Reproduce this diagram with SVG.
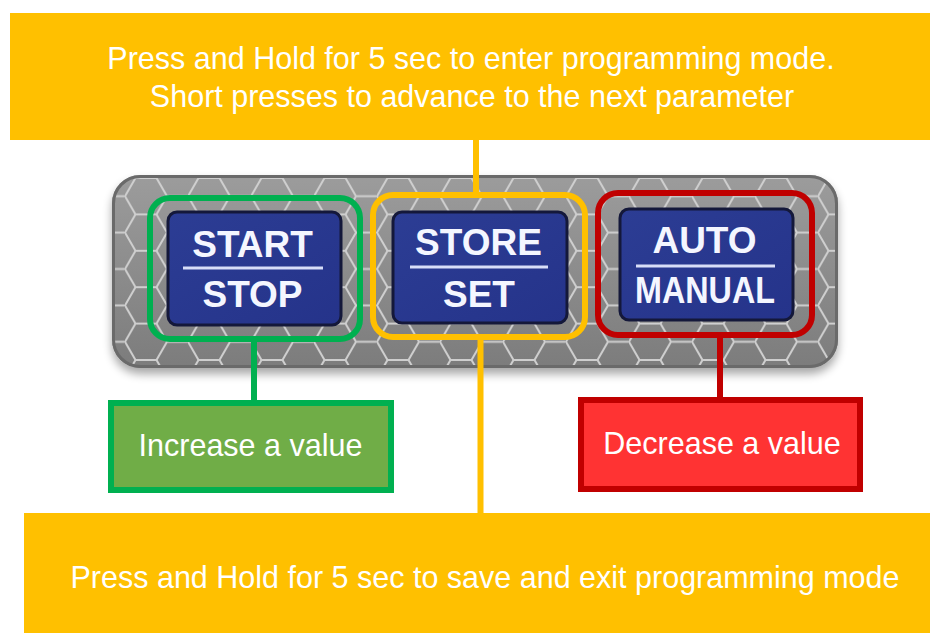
<svg xmlns="http://www.w3.org/2000/svg" width="930" height="633" viewBox="0 0 930 633">
<defs>
<style>
.lbl{font-family:"Liberation Sans",Arial,sans-serif;font-size:30.5px;fill:#ffffff;text-anchor:middle}
.key{font-family:"Liberation Sans",Arial,sans-serif;font-weight:bold;font-size:37px;fill:#f4f6ff;text-anchor:middle}
.keyface{fill:url(#keyGrad);stroke:#14183a;stroke-width:3}
.keybar{stroke:#d8def8;stroke-width:3}
.ring{fill:none;stroke-width:6}
.conn{stroke-width:6;fill:none}
</style>
<pattern id="hex" width="63" height="36.4" patternUnits="userSpaceOnUse" x="125" y="178">
<path d="M0,18.2 L10.5,0 L31.5,0 L42,18.2 L31.5,36.4 L10.5,36.4 Z M42,18.2 H63" fill="none" stroke="#cfcfcf" stroke-width="2"/>
</pattern>
<linearGradient id="panelGrad" x1="0" y1="0" x2="0" y2="1">
<stop offset="0" stop-color="#9c9c9c"/>
<stop offset="0.5" stop-color="#8c8c8c"/>
<stop offset="1" stop-color="#7c7c7c"/>
</linearGradient>
<linearGradient id="keyGrad" x1="0" y1="0" x2="1" y2="1">
<stop offset="0" stop-color="#2c3d94"/>
<stop offset="1" stop-color="#25338a"/>
</linearGradient>
<filter id="shadow" x="-10%" y="-10%" width="120%" height="140%">
<feGaussianBlur in="SourceAlpha" stdDeviation="5"/>
<feOffset dy="6"/>
<feComponentTransfer><feFuncA type="linear" slope="0.35"/></feComponentTransfer>
<feMerge><feMergeNode/><feMergeNode in="SourceGraphic"/></feMerge>
</filter>
</defs>
<rect width="930" height="633" fill="#ffffff"/>

<g id="panel">
<rect x="112" y="175" width="726" height="193" rx="28" fill="url(#panelGrad)" filter="url(#shadow)"/>
<rect x="112" y="175" width="726" height="193" rx="28" fill="url(#hex)"/>
<rect x="113.5" y="176.5" width="723" height="190" rx="27" fill="none" stroke="#6a6a6a" stroke-width="3"/>
</g>

<g id="label-top">
<rect x="10" y="13" width="920" height="127" fill="#FFC000"/>
<text class="lbl" x="471" y="69">Press and Hold for 5 sec to enter programming mode.</text>
<text class="lbl" x="472" y="107">Short presses to advance to the next parameter</text>
</g>

<g id="connectors">
<line class="conn" x1="476" y1="140" x2="476" y2="198" stroke="#FFC000"/>
<line class="conn" x1="480.5" y1="339" x2="480.5" y2="514" stroke="#FFC000"/>
<line class="conn" x1="254" y1="339" x2="254" y2="401" stroke="#00B050" stroke-width="5"/>
<line class="conn" x1="720" y1="335" x2="720" y2="398" stroke="#C00000" stroke-width="5"/>
</g>

<g id="btn-start">
<rect class="keyface" x="168" y="212" width="173" height="113" rx="9"/>
<text class="key" x="252.5" y="257">START</text>
<line class="keybar" x1="183" y1="268" x2="323" y2="268"/>
<text class="key" x="252.5" y="307">STOP</text>
<rect class="ring" x="150" y="198" width="210" height="141" rx="20" stroke="#00B050"/>
</g>

<g id="btn-store">
<rect class="keyface" x="393" y="212" width="174" height="111" rx="9"/>
<text class="key" x="478.5" y="255">STORE</text>
<line class="keybar" x1="410" y1="267" x2="548" y2="267"/>
<text class="key" x="479" y="307">SET</text>
<rect class="ring" x="373" y="195" width="212" height="142" rx="20" stroke="#FFC000"/>
</g>

<g id="btn-auto">
<rect class="keyface" x="620" y="209" width="173" height="111" rx="9"/>
<text class="key" x="704.5" y="253">AUTO</text>
<line class="keybar" x1="636" y1="266" x2="775" y2="266"/>
<text class="key" x="705" y="303" font-size="35" textLength="140" lengthAdjust="spacingAndGlyphs">MANUAL</text>
<rect class="ring" x="598" y="193" width="214" height="142" rx="20" stroke="#C00000"/>
</g>

<g id="label-increase">
<rect x="111" y="403" width="280" height="87" fill="#70AD47" stroke="#00B050" stroke-width="6"/>
<text class="lbl" x="250.5" y="456" font-size="30">Increase a value</text>
</g>

<g id="label-decrease">
<rect x="581" y="400" width="279" height="89" fill="#FF3333" stroke="#C00000" stroke-width="6"/>
<text class="lbl" x="722" y="454" font-size="30">Decrease a value</text>
</g>

<g id="label-bottom">
<rect x="24" y="513" width="906" height="120" fill="#FFC000"/>
<text class="lbl" x="485" y="588">Press and Hold for 5 sec to save and exit programming mode</text>
</g>
</svg>
